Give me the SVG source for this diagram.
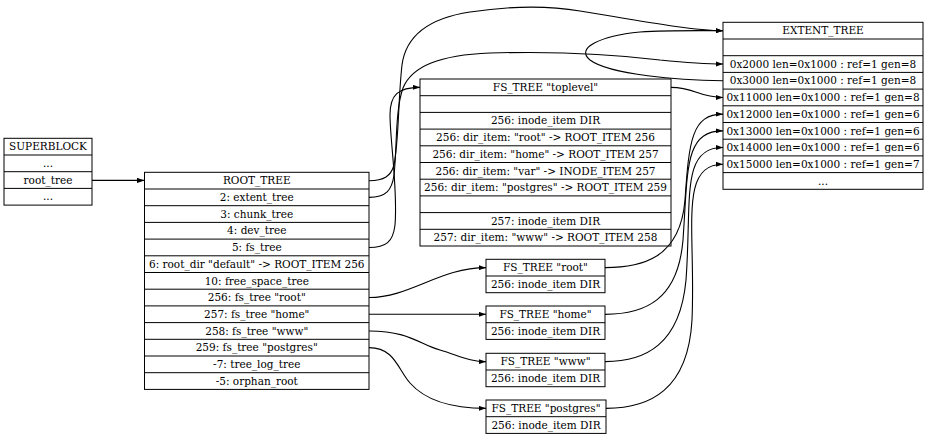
<svg xmlns="http://www.w3.org/2000/svg" width="927" height="434" viewBox="0 0 927 434">
<style>
.box{fill:#fff;stroke:#000;stroke-width:1}
.sep{stroke:#000;stroke-width:1}
text{font-family:"DejaVu Serif","Liberation Serif",serif;font-size:10.5px;text-anchor:middle;fill:#000}
.edge{fill:none;stroke:#000;stroke-width:1.1;marker-end:url(#arr)}
</style>
<defs>
<marker id="arr" viewBox="0 0 10 7" markerWidth="7.5" markerHeight="5.25" refX="10" refY="3.5" orient="auto" markerUnits="userSpaceOnUse">
<path d="M0,0 L10,3.5 L0,7 z" fill="#000"/>
</marker>
</defs>
<rect width="927" height="434" fill="#fff"/>

<g id="superblock">
<rect class="box" x="4" y="138.3" width="88" height="66.8"/>
<line class="sep" x1="4" y1="155" x2="92" y2="155"/>
<line class="sep" x1="4" y1="171.7" x2="92" y2="171.7"/>
<line class="sep" x1="4" y1="188.4" x2="92" y2="188.4"/>
<text x="48" y="150.3">SUPERBLOCK</text>
<text x="48" y="167">...</text>
<text x="48" y="183.7">root_tree</text>
<text x="48" y="200.4">...</text>
</g>

<g id="root_tree">
<rect class="box" x="144.5" y="172.3" width="224.5" height="217.1"/>
<line class="sep" x1="144.5" y1="189" x2="369" y2="189"/>
<line class="sep" x1="144.5" y1="205.7" x2="369" y2="205.7"/>
<line class="sep" x1="144.5" y1="222.4" x2="369" y2="222.4"/>
<line class="sep" x1="144.5" y1="239.1" x2="369" y2="239.1"/>
<line class="sep" x1="144.5" y1="255.8" x2="369" y2="255.8"/>
<line class="sep" x1="144.5" y1="272.5" x2="369" y2="272.5"/>
<line class="sep" x1="144.5" y1="289.2" x2="369" y2="289.2"/>
<line class="sep" x1="144.5" y1="305.9" x2="369" y2="305.9"/>
<line class="sep" x1="144.5" y1="322.6" x2="369" y2="322.6"/>
<line class="sep" x1="144.5" y1="339.3" x2="369" y2="339.3"/>
<line class="sep" x1="144.5" y1="356" x2="369" y2="356"/>
<line class="sep" x1="144.5" y1="372.7" x2="369" y2="372.7"/>
<text x="256.75" y="184.3">ROOT_TREE</text>
<text x="256.75" y="201">2: extent_tree</text>
<text x="256.75" y="217.7">3: chunk_tree</text>
<text x="256.75" y="234.4">4: dev_tree</text>
<text x="256.75" y="251.1">5: fs_tree</text>
<text x="256.75" y="267.8">6: root_dir "default" -&gt; ROOT_ITEM 256</text>
<text x="256.75" y="284.5">10: free_space_tree</text>
<text x="256.75" y="301.2">256: fs_tree "root"</text>
<text x="256.75" y="317.9">257: fs_tree "home"</text>
<text x="256.75" y="334.6">258: fs_tree "www"</text>
<text x="256.75" y="351.3">259: fs_tree "postgres"</text>
<text x="256.75" y="368">-7: tree_log_tree</text>
<text x="256.75" y="384.7">-5: orphan_root</text>
</g>

<g id="fs_toplevel">
<rect class="box" x="420" y="79" width="251" height="167"/>
<line class="sep" x1="420" y1="95.7" x2="671" y2="95.7"/>
<line class="sep" x1="420" y1="112.4" x2="671" y2="112.4"/>
<line class="sep" x1="420" y1="129.1" x2="671" y2="129.1"/>
<line class="sep" x1="420" y1="145.8" x2="671" y2="145.8"/>
<line class="sep" x1="420" y1="162.5" x2="671" y2="162.5"/>
<line class="sep" x1="420" y1="179.2" x2="671" y2="179.2"/>
<line class="sep" x1="420" y1="195.9" x2="671" y2="195.9"/>
<line class="sep" x1="420" y1="212.6" x2="671" y2="212.6"/>
<line class="sep" x1="420" y1="229.3" x2="671" y2="229.3"/>
<text x="545.5" y="91">FS_TREE "toplevel"</text>
<text x="545.5" y="124.4">256: inode_item DIR</text>
<text x="545.5" y="141.1">256: dir_item: "root" -&gt; ROOT_ITEM 256</text>
<text x="545.5" y="157.8">256: dir_item: "home" -&gt; ROOT_ITEM 257</text>
<text x="545.5" y="174.5">256: dir_item: "var" -&gt; INODE_ITEM 257</text>
<text x="545.5" y="191.2">256: dir_item: "postgres" -&gt; ROOT_ITEM 259</text>
<text x="545.5" y="224.6">257: inode_item DIR</text>
<text x="545.5" y="241.3">257: dir_item: "www" -&gt; ROOT_ITEM 258</text>
</g>

<g id="extent_tree">
<rect class="box" x="723" y="22.3" width="200" height="167"/>
<line class="sep" x1="723" y1="39" x2="923" y2="39"/>
<line class="sep" x1="723" y1="55.7" x2="923" y2="55.7"/>
<line class="sep" x1="723" y1="72.4" x2="923" y2="72.4"/>
<line class="sep" x1="723" y1="89.1" x2="923" y2="89.1"/>
<line class="sep" x1="723" y1="105.8" x2="923" y2="105.8"/>
<line class="sep" x1="723" y1="122.5" x2="923" y2="122.5"/>
<line class="sep" x1="723" y1="139.2" x2="923" y2="139.2"/>
<line class="sep" x1="723" y1="155.9" x2="923" y2="155.9"/>
<line class="sep" x1="723" y1="172.6" x2="923" y2="172.6"/>
<text x="823" y="34.3">EXTENT_TREE</text>
<text x="823" y="67.7">0x2000 len=0x1000 : ref=1 gen=8</text>
<text x="823" y="84.4">0x3000 len=0x1000 : ref=1 gen=8</text>
<text x="823" y="101.1">0x11000 len=0x1000 : ref=1 gen=8</text>
<text x="823" y="117.8">0x12000 len=0x1000 : ref=1 gen=6</text>
<text x="823" y="134.5">0x13000 len=0x1000 : ref=1 gen=6</text>
<text x="823" y="151.2">0x14000 len=0x1000 : ref=1 gen=6</text>
<text x="823" y="167.9">0x15000 len=0x1000 : ref=1 gen=7</text>
<text x="823" y="184.6">...</text>
</g>

<g id="fs_root">
<rect class="box" x="486" y="259.3" width="119" height="33.4"/>
<line class="sep" x1="486" y1="276" x2="605" y2="276"/>
<text x="545.5" y="271.3">FS_TREE "root"</text>
<text x="545.5" y="288">256: inode_item DIR</text>
</g>

<g id="fs_home">
<rect class="box" x="486" y="306" width="119" height="33.4"/>
<line class="sep" x1="486" y1="322.7" x2="605" y2="322.7"/>
<text x="545.5" y="318">FS_TREE "home"</text>
<text x="545.5" y="334.7">256: inode_item DIR</text>
</g>

<g id="fs_www">
<rect class="box" x="486" y="353.3" width="119" height="33.4"/>
<line class="sep" x1="486" y1="370" x2="605" y2="370"/>
<text x="545.5" y="365.3">FS_TREE "www"</text>
<text x="545.5" y="382">256: inode_item DIR</text>
</g>

<g id="fs_postgres">
<rect class="box" x="486" y="400" width="120" height="33.4"/>
<line class="sep" x1="486" y1="416.7" x2="606" y2="416.7"/>
<text x="546" y="412">FS_TREE "postgres"</text>
<text x="546" y="428.7">256: inode_item DIR</text>
</g>

<g id="connectors">
<path class="edge" d="M92,180.4 L144.5,180.4"/>
<path class="edge" d="M369,180.7 C384,180.7 391,176 394,165 C399,140 398,100 402,65 C406,35 430,18 470,12 C510,6 545,5 580,11 C630,19 690,30.65 723,30.65"/>
<path class="edge" d="M369,197.4 C386,197.4 392,190 394,175 C397,150 395,110 403,88 C412,66 440,55 490,53 C560,51 620,55 660,60 C690,63 705,64.05 723,64.05"/>
<path class="edge" d="M369,247.5 C386,247.5 393,242 395,225 C398,190 390,140 390,115 C390,95 398,87.35 420,87.35"/>
<path class="edge" d="M671,87.35 C695,87.35 698,97.45 723,97.45"/>
<path class="edge" d="M723,80.75 C680,80 610,75 590,60 C575,48 600,36 640,32 C670,30 700,30.65 723,30.65"/>
<path class="edge" d="M369,297.55 C410,297.55 440,267.65 486,267.65"/>
<path class="edge" d="M369,314.3 L486,314.3"/>
<path class="edge" d="M369,330.95 C410,330.95 420,345 440,350 C460,356 470,361.65 486,361.65"/>
<path class="edge" d="M369,347.65 C395,347.65 398,370 410,383 C425,400 450,408.35 486,408.35"/>
<path class="edge" d="M605,267.65 C640,267.65 680,260 685,200 C689,140 692,114.15 723,114.15"/>
<path class="edge" d="M605,314.35 C645,314.35 678,300 683,240 C688,170 684,130.85 723,130.85"/>
<path class="edge" d="M605,361.65 C645,361.65 680,345 686,280 C692,200 680,147.55 723,147.55"/>
<path class="edge" d="M606,408.35 C650,408.35 688,390 692,320 C696,230 678,164.25 723,164.25"/>
</g>
</svg>
